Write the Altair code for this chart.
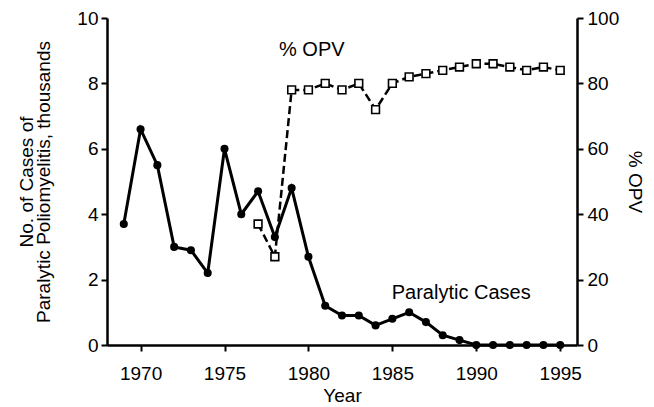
import altair as alt
import pandas as pd

years_cases = list(range(1969, 1996))
cases = [3.7, 6.6, 5.5, 3.0, 2.9, 2.2, 6.0, 4.0, 4.7, 3.3, 4.8, 2.7, 1.2, 0.9, 0.9,
         0.6, 0.8, 1.0, 0.7, 0.3, 0.15, 0.0, 0.0, 0.0, 0.0, 0.0, 0.0]

years_opv = list(range(1977, 1996))
opv = [37, 27, 78, 78, 80, 78, 80, 72, 80, 82, 83, 84, 85, 86, 86, 85, 84, 85, 84]

label_text = ["% OPV", "Paralytic Cases"]
label_year = [1980.2, 1989.1]
label_val = [9.03, 1.58]

FONT = "Liberation Sans"

df_c = pd.DataFrame({"Year": years_cases, "Cases": cases})
df_o = pd.DataFrame({"Year": years_opv, "OPV": opv})
df_l1 = pd.DataFrame({"Year": [label_year[0]], "val": [label_val[0] * 10], "t": [label_text[0]]})
df_l2 = pd.DataFrame({"Year": [label_year[1]], "val": [label_val[1]], "t": [label_text[1]]})

xenc = alt.X("Year:Q", scale=alt.Scale(domain=[1968, 1996], nice=False, zero=False),
             axis=alt.Axis(values=[1970, 1975, 1980, 1985, 1990, 1995], format="d",
                           title="Year", grid=False, tickSize=6, labelPadding=13,
                           titlePadding=3))

yc = alt.Y("Cases:Q", scale=alt.Scale(domain=[0, 10], nice=False),
           axis=alt.Axis(values=[0, 2, 4, 6, 8, 10], grid=False, tickSize=6, labelPadding=3,
                         title=["No. of Cases of", "Paralytic Poliomyelitis, thousands"],
                         titleLineHeight=17, titlePadding=23))

yo = alt.Y("OPV:Q", scale=alt.Scale(domain=[0, 100], nice=False),
           axis=alt.Axis(values=[0, 20, 40, 60, 80, 100], grid=False, tickSize=6,
                         labelPadding=4, orient="right", title="% OPV", titlePadding=6))

cases_line = alt.Chart(df_c).mark_line(color="black", strokeWidth=3).encode(x=xenc, y=yc)
cases_pts = alt.Chart(df_c).mark_point(shape="circle", filled=True, color="black", size=65,
                                       opacity=1).encode(x="Year:Q", y="Cases:Q")
cases_lab = alt.Chart(df_l2).mark_text(font=FONT, fontSize=20, color="black").encode(
    x="Year:Q", y=alt.Y("val:Q"), text="t:N")
grp_c = alt.layer(cases_line, cases_pts, cases_lab)

opv_line = alt.Chart(df_o).mark_line(color="black", strokeWidth=2.5, strokeDash=[8, 4]).encode(
    x="Year:Q", y=yo)
opv_pts = alt.Chart(df_o).mark_point(shape="square", filled=True, fill="white", stroke="black",
                                     strokeWidth=1.6, size=60, opacity=1).encode(
    x="Year:Q", y="OPV:Q")
opv_lab = alt.Chart(df_l1).mark_text(font=FONT, fontSize=20, color="black").encode(
    x="Year:Q", y=alt.Y("val:Q"), text="t:N")
grp_o = alt.layer(opv_line, opv_pts, opv_lab)

chart = alt.layer(grp_c, grp_o).resolve_scale(y="independent").properties(
    width=470, height=327,
    autosize=alt.AutoSizeParams(type="none"),
    padding={"left": 99, "top": 10, "right": 69, "bottom": 60},
).configure(background="white").configure_view(stroke=None).configure_axis(
    domainColor="black", domainWidth=2.5, tickColor="black", tickWidth=2,
    labelFont=FONT, labelFontSize=19, labelColor="black",
    titleFont=FONT, titleFontSize=19, titleFontWeight="normal", titleColor="black",
)

chart.save("out.html", embed_options={"renderer": "svg", "actions": False})
